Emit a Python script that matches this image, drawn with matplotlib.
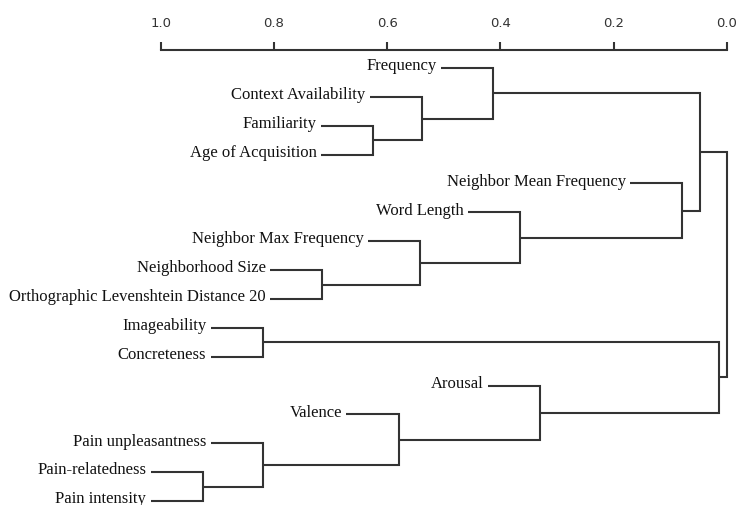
import matplotlib
matplotlib.use("Agg")
import matplotlib.pyplot as plt

# ---- data ----
leaves = [
    "Frequency", "Context Availability", "Familiarity", "Age of Acquisition",
    "Neighbor Mean Frequency", "Word Length", "Neighbor Max Frequency",
    "Neighborhood Size", "Orthographic Levenshtein Distance 20",
    "Imageability", "Concreteness", "Arousal", "Valence",
    "Pain unpleasantness", "Pain-relatedness", "Pain intensity",
]
# linkage: (child_a, child_b, height); ids 0..15 are leaves, 16+ are merges in order
merge_a = [2, 1, 0, 7, 6, 5, 4, 18, 9, 14, 13, 12, 11, 24, 23]
merge_b = [3, 16, 17, 8, 19, 20, 21, 22, 10, 15, 25, 26, 27, 28, 29]
merge_h = [0.625, 0.539, 0.413, 0.715, 0.542, 0.366, 0.079, 0.048,
           0.820, 0.926, 0.820, 0.580, 0.330, 0.014, 0.0]
tick_vals = [1.0, 0.8, 0.6, 0.4, 0.2, 0.0]
tick_labels = ["1.0", "0.8", "0.6", "0.4", "0.2", "0.0"]

# ---- style ----
LEAF_STUB = 0.092
LINE_COLOR = "#333333"
LW = 1.5

W, H = 736, 506
fig = plt.figure(figsize=(W / 100, H / 100), dpi=100)
x0, x1 = 160.7, 727.0
ytop = 51.0
ax = fig.add_axes([x0 / W, 0, (x1 - x0) / W, 1 - ytop / H])
leaf_top, step = 69.0, 28.87
ax.set_xlim(1.0, 0.0)
ax.set_ylim((H - leaf_top) / step, -(leaf_top - ytop) / step)

n = len(leaves)
ypos = {i: float(i) for i in range(n)}
hpos = {}
parent_h = {}
for a, b, h in zip(merge_a, merge_b, merge_h):
    parent_h[a] = h
    parent_h[b] = h
for i in range(n):
    hpos[i] = parent_h[i] + LEAF_STUB
for k, (a, b, h) in enumerate(zip(merge_a, merge_b, merge_h)):
    cid = n + k
    ypos[cid] = (ypos[a] + ypos[b]) / 2
    hpos[cid] = h

for a, b, h in zip(merge_a, merge_b, merge_h):
    ax.plot([hpos[a], h, h, hpos[b]], [ypos[a], ypos[a], ypos[b], ypos[b]],
            color=LINE_COLOR, lw=LW, clip_on=False, solid_capstyle="butt",
            solid_joinstyle="miter")

for i, name in enumerate(leaves):
    ax.annotate(name, (hpos[i], ypos[i]), xytext=(-3, 2), textcoords="offset points",
                ha="right", va="center", fontsize=12, family="Liberation Serif",
                color="#111111", annotation_clip=False)

for s in ["left", "right", "bottom"]:
    ax.spines[s].set_visible(False)
ax.spines["top"].set_bounds(0.0, 1.0)
ax.spines["top"].set_color(LINE_COLOR)
ax.spines["top"].set_linewidth(LW)
ax.xaxis.tick_top()
ax.set_xticks(tick_vals)
ax.set_xticklabels(tick_labels, fontsize=9.5, family="DejaVu Sans", color="#333333")
ax.tick_params(axis="x", direction="out", length=6, width=LW, color=LINE_COLOR, pad=9)
ax.set_yticks([])
ax.patch.set_alpha(0)

fig.savefig("out.png", dpi=100)
